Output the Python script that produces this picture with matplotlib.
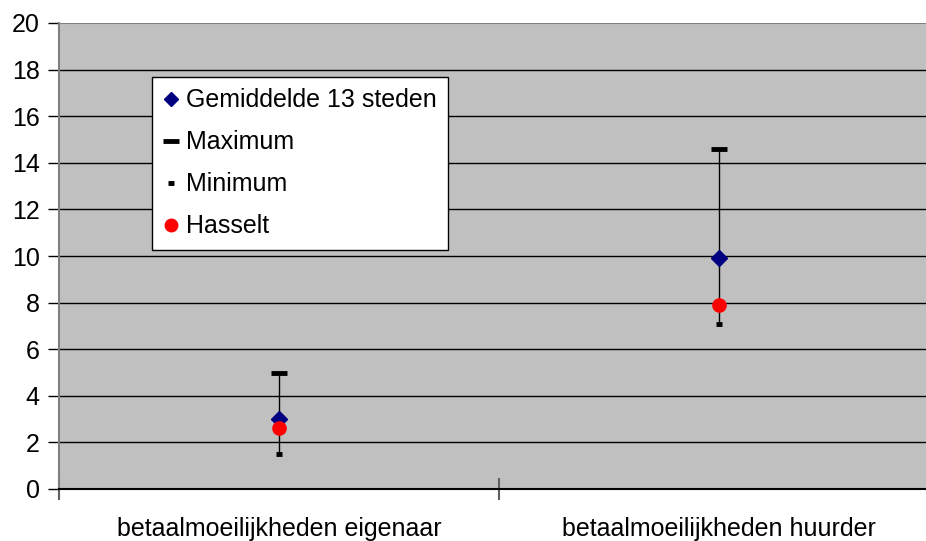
import matplotlib
matplotlib.use("Agg")
import matplotlib.pyplot as plt
from matplotlib.lines import Line2D

plt.rcParams['font.family'] = ['Liberation Sans', 'DejaVu Sans']

categories = ["betaalmoeilijkheden eigenaar", "betaalmoeilijkheden huurder"]
gemiddelde = [3.0, 9.9]
maximum = [5.0, 14.6]
minimum = [1.5, 7.1]
hasselt = [2.6, 7.9]
yticks = list(range(0, 21, 2))

fig = plt.figure(figsize=(9.26, 5.41), dpi=100)
ax = fig.add_axes([59/926, 1-489/541, 880/926, 466/541])
ax.set_facecolor('#c0c0c0')

x = [0.5 + i for i in range(len(categories))]

ax.set_ylim(0, 20)
ax.set_xlim(0, 2)
ax.set_yticks(yticks)
for yv in yticks[1:-1]:
    ax.axhline(yv, color='black', lw=1, zorder=1)
ax.axhline(20, color='#808080', lw=1.5, zorder=1)

ax.vlines(x, minimum, maximum, color='black', lw=1, zorder=2)
ax.plot(x, maximum, linestyle='none', marker='_', markersize=11, mew=3.5, color='black', zorder=3)
ax.plot(x, minimum, linestyle='none', marker='_', markersize=4.5, mew=3.5, color='black', zorder=3)
ax.plot(x, gemiddelde, linestyle='none', marker='D', markersize=8, color='#000080', zorder=4)
ax.plot(x, hasselt, linestyle='none', marker='o', markersize=9.5, color='#ff0000', zorder=5)

for s in ['top', 'right']:
    ax.spines[s].set_visible(False)
ax.spines['left'].set_color('#808080')
ax.spines['left'].set_linewidth(1.5)
ax.spines['bottom'].set_color('black')
ax.spines['bottom'].set_linewidth(1.5)

ax.tick_params(axis='y', direction='out', length=8, width=1, color='black', labelsize=18, pad=6)
ax.set_xticks([0, 1, 2])
ax.set_xticklabels([])
ax.tick_params(axis='x', which='major', direction='inout', length=16, width=1.5, color='#606060')
ax.set_xticks(x, minor=True)
ax.set_xticklabels(categories, minor=True)
ax.tick_params(axis='x', which='minor', length=0, labelsize=18, pad=20)

handles = [
    Line2D([], [], linestyle='none', marker='D', markersize=7, color='#000080'),
    Line2D([], [], linestyle='none', marker='_', markersize=11, mew=3.5, color='black'),
    Line2D([], [], linestyle='none', marker='_', markersize=4.5, mew=3.5, color='black'),
    Line2D([], [], linestyle='none', marker='o', markersize=9, color='#ff0000'),
]
labels = ["Gemiddelde 13 steden", "Maximum", "Minimum", "Hasselt"]
leg = ax.legend(handles, labels, loc='upper left',
                bbox_to_anchor=((152 - 59) / 880, (489 - 77) / 466),
                borderaxespad=0, fontsize=18, frameon=True, fancybox=False, framealpha=1,
                edgecolor='black', handlelength=0.6, handletextpad=0.3, labelspacing=0.72,
                borderpad=0.45)
leg.get_frame().set_linewidth(1)

fig.savefig('out.png', dpi=100)
